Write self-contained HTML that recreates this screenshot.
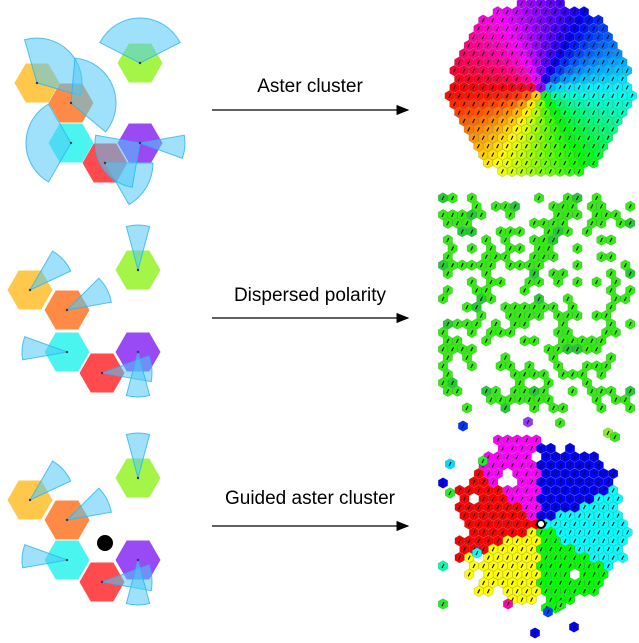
<!DOCTYPE html>
<html><head><meta charset="utf-8"><style>
html,body{margin:0;padding:0;background:#fff;width:639px;height:643px;overflow:hidden}
svg{position:absolute;left:0;top:0}
text{font-family:"Liberation Sans",sans-serif;font-size:19px;fill:#000}
</style></head><body>
<svg id="s" width="639" height="643" viewBox="0 0 639 643" xmlns="http://www.w3.org/2000/svg">
<defs><marker id="ar" markerWidth="10" markerHeight="8" refX="9" refY="4" orient="auto"><path d="M0,0L10,4L0,8z" fill="#000"/></marker></defs>
<g id="left"></g><g id="right"></g>
<line x1="212" y1="110" x2="408" y2="110" stroke="#000" stroke-width="1.3" marker-end="url(#ar)"/>
<line x1="212" y1="318" x2="408" y2="318" stroke="#000" stroke-width="1.3" marker-end="url(#ar)"/>
<line x1="212" y1="526" x2="408" y2="526" stroke="#000" stroke-width="1.3" marker-end="url(#ar)"/>
<text x="310" y="92" text-anchor="middle">Aster cluster</text>
<text x="310" y="301" text-anchor="middle">Dispersed polarity</text>
<text x="310" y="504" text-anchor="middle">Guided aster cluster</text>
</svg>
<script>
var NS="http://www.w3.org/2000/svg",L=document.getElementById('left'),R=document.getElementById('right');
function el(p,t,a){var e=document.createElementNS(NS,t);for(var k in a)e.setAttribute(k,a[k]);p.appendChild(e);return e;}
function hex(p,cx,cy,r,fill,flat,extra){var pts=[];for(var i=0;i<6;i++){var a=(flat?0:30)+60*i;a*=Math.PI/180;pts.push((cx+r*Math.cos(a)).toFixed(1)+','+(cy+r*Math.sin(a)).toFixed(1));}var o={points:pts.join(' '),fill:fill};for(var k in extra)o[k]=extra[k];return el(p,'polygon',o);}
function wedge(cx,cy,r,a1,a2){var d=Math.PI/180;var x1=cx+r*Math.cos(a1*d),y1=cy+r*Math.sin(a1*d),x2=cx+r*Math.cos(a2*d),y2=cy+r*Math.sin(a2*d);var large=(a2-a1)>180?1:0;
el(L,'path',{d:'M'+cx+','+cy+'L'+x1+','+y1+'A'+r+','+r+' 0 '+large+' 1 '+x2+','+y2+'Z',fill:'rgba(80,200,245,0.55)',stroke:'rgba(40,180,240,0.8)','stroke-width':1});}
var cols=['#ffc84a','#ff8a45','#4af5f0','#ff4a4e','#9a4af5','#a4f548'];
function cluster(P,ws){for(var i=0;i<6;i++){hex(L,P[i][0],P[i][1],22.5,cols[i],true);}for(var i=0;i<ws.length;i++)wedge.apply(null,ws[i]);for(var i=0;i<6;i++)el(L,'circle',{cx:P[i][0],cy:P[i][1],r:1.2,fill:'#335'});}
cluster([[37,83],[71,103],[71,143],[105,163],[140,143],[140,63]],
[[37,83,45,-106,16],[71,103,45,-85,40],[71,143,45,120,240],[105,163,48,0,60],[140,143,45,100,190],[140,143,45,-10,20],[140,63,45,-153,-27]]);
cluster([[30,290],[67,310],[67,352],[102,373],[138,352],[138,270]],
[[30,290,45,-60,-25],[67,310,45,-45,-10],[67,352,45,170,200],[102,373,50,-20,10],[138,352,45,75,105],[138,270,45,-105,-75]]);
cluster([[30,500],[67,520],[67,560],[102,582],[138,560],[138,478]],
[[30,500,45,-60,-25],[67,520,45,-45,-10],[67,560,45,170,200],[102,582,50,-20,10],[138,560,45,75,105],[138,478,45,-105,-75]]);
el(L,'circle',{cx:105,cy:543,r:8,fill:'#000'});
var seed=7;function rnd(){seed=(seed*16807)%2147483647;return seed/2147483647;}
function hsl(h){return 'hsl('+h+',100%,50%)';}
function lattice(x0,y0,x1,y1,f){var dx=9.6,dy=8.4;for(var j=0;;j++){var y=y0+j*dy;if(y>y1)break;for(var i=0;;i++){var x=x0+i*dx+(j%2?dx/2:0);if(x>x1)break;f(x,y);}}}
function tile(x,y,c){hex(R,x,y,5.4,c,false,{stroke:'rgba(0,0,0,0.25)','stroke-width':0.5});el(R,'line',{x1:x-1,y1:y+2,x2:x+1,y2:y-2,stroke:'#111','stroke-width':1.2});}
// top aster
lattice(440,-5,640,190,function(x,y){var dxx=x-541,dyy=y-90;var d=Math.sqrt(dxx*dxx+dyy*dyy);var ang=Math.atan2(dyy,dxx)*180/Math.PI;var rr=90+2*Math.cos(ang*6*Math.PI/180);if(d>rr)return;var cw=(ang+90+360)%360;var h=((270-cw)%360+360)%360;tile(x,y,hsl(h));});
// dispersed
lattice(443,198,632,412,function(x,y){var n=Math.sin(x*0.07)*Math.cos(y*0.09)+Math.sin(x*0.13+y*0.05);if(rnd()<0.5+0.15*n)tile(x,y,rnd()<0.9?'#33ee11':'#22cc33');});
// guided
var sec=[[ -90,-25,'#0000ff'],[-25,35,'#00ffff'],[35,90,'#00ff00'],[90,155,'#ffff00'],[155,220,'#ff0000'],[220,270,'#ff00ff']];
lattice(450,440,630,610,function(x,y){var dxx=x-541,dyy=y-524;var d=Math.sqrt(dxx*dxx+dyy*dyy);var ang=Math.atan2(dyy,dxx)*180/Math.PI;var rr=86+6*Math.sin(ang*0.1)+(rnd()*12-6);if(d>rr||(rnd()<0.04&&d>50))return;var a=(ang+360+90)%360-90;var c='#f0f';for(var k=0;k<6;k++)if(a>=sec[k][0]&&a<sec[k][1])c=sec[k][2];tile(x,y,c);});
el(R,'circle',{cx:541,cy:524,r:4,fill:'#fff',stroke:'#000','stroke-width':2});
var strays=[[463,426,'#0033ff'],[528,422,'#9933ff'],[560,423,'#33ee11'],[608,433,'#88ee22'],[615,437,'#33ee11'],[483,461,'#22ee22'],[450,464,'#00ddff'],[443,483,'#0000ff'],[450,493,'#22ee22'],[477,553,'#00ffff'],[443,566,'#00ffaa'],[443,604,'#22ee22'],[508,604,'#ff00aa'],[548,612,'#0044ff'],[561,605,'#22ee22'],[535,633,'#0000ff'],[574,627,'#0000ff']];
for(var i=0;i<strays.length;i++)tile(strays[i][0],strays[i][1],strays[i][2]);
</script>
</body></html>
